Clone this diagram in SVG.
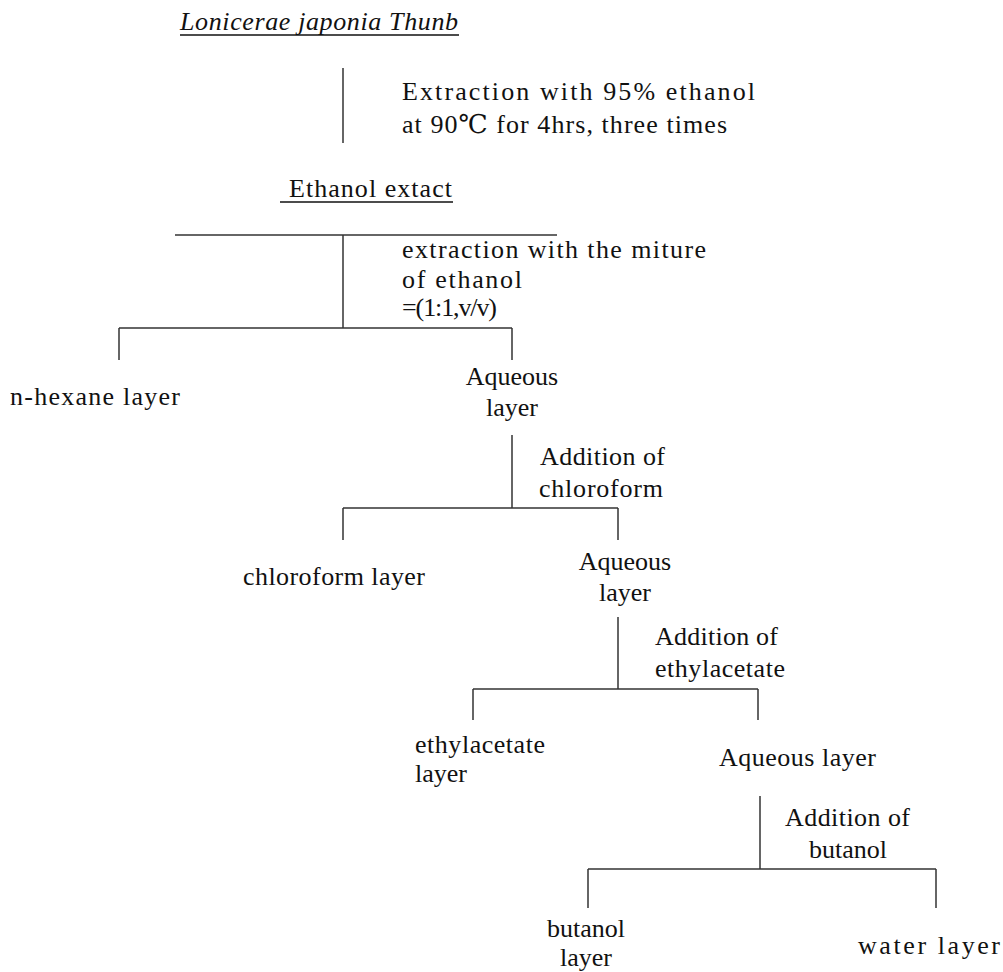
<svg xmlns="http://www.w3.org/2000/svg" width="1003" height="972" viewBox="0 0 1003 972" font-family="'Liberation Serif', 'Times New Roman', 'DejaVu Serif', serif">
<style>
text{font-family:"Liberation Serif","Times New Roman","DejaVu Serif",serif;font-size:26px;fill:#111}
.c{text-anchor:middle}
.it{font-style:italic}
line{stroke:#333;stroke-width:1.5;fill:none}
.ul{stroke:#111;stroke-width:1.5}
</style>
<rect width="1003" height="972" fill="#fff"/>
<g id="connectors">
<line x1="343" y1="68" x2="343" y2="143"/>
<line x1="175" y1="235" x2="557" y2="235"/>
<line x1="343" y1="235" x2="343" y2="328"/>
<line x1="119" y1="328" x2="512" y2="328"/>
<line x1="119" y1="328" x2="119" y2="360"/>
<line x1="512" y1="328" x2="512" y2="360"/>
<line x1="512" y1="435" x2="512" y2="508"/>
<line x1="343" y1="508" x2="618" y2="508"/>
<line x1="343" y1="508" x2="343" y2="540"/>
<line x1="618" y1="508" x2="618" y2="540"/>
<line x1="618" y1="617" x2="618" y2="689"/>
<line x1="473" y1="689" x2="758" y2="689"/>
<line x1="473" y1="689" x2="473" y2="720"/>
<line x1="758" y1="689" x2="758" y2="720"/>
<line x1="760" y1="796" x2="760" y2="869"/>
<line x1="588" y1="869" x2="936" y2="869"/>
<line x1="588" y1="869" x2="588" y2="908"/>
<line x1="936" y1="869" x2="936" y2="908"/>
</g>
<g id="title">
<text class="it" x="180" y="30" textLength="278" lengthAdjust="spacing">Lonicerae japonia Thunb</text>
<line class="ul" x1="180" y1="35" x2="459" y2="35"/>
</g>
<g id="step1-label">
<text x="402" y="100" textLength="353" lengthAdjust="spacing">Extraction with 95% ethanol</text>
<text x="402" y="133" textLength="325" lengthAdjust="spacing">at 90℃ for 4hrs, three times</text>
</g>
<g id="ethanol-extract">
<text x="289" y="197" textLength="163" lengthAdjust="spacing">Ethanol extact</text>
<line class="ul" x1="280" y1="202" x2="453" y2="202"/>
</g>
<g id="step2-label">
<text x="402" y="258" textLength="304" lengthAdjust="spacing">extraction with the miture</text>
<text x="402" y="288" textLength="120" lengthAdjust="spacing">of ethanol</text>
<text x="402" y="316" textLength="95" lengthAdjust="spacing">=(1:1,v/v)</text>
</g>
<g id="n-hexane-layer">
<text x="10" y="405" textLength="170" lengthAdjust="spacing">n-hexane layer</text>
</g>
<g id="aqueous-layer-1">
<text class="c" x="512" y="385">Aqueous</text>
<text class="c" x="512" y="416">layer</text>
</g>
<g id="step3-label">
<text x="540" y="465" textLength="125" lengthAdjust="spacing">Addition of</text>
<text x="539" y="497" textLength="124" lengthAdjust="spacing">chloroform</text>
</g>
<g id="chloroform-layer">
<text x="243" y="585" textLength="182" lengthAdjust="spacing">chloroform layer</text>
</g>
<g id="aqueous-layer-2">
<text class="c" x="625" y="570">Aqueous</text>
<text class="c" x="625" y="601">layer</text>
</g>
<g id="step4-label">
<text x="655" y="645" textLength="123" lengthAdjust="spacing">Addition of</text>
<text x="655" y="677" textLength="130" lengthAdjust="spacing">ethylacetate</text>
</g>
<g id="ethylacetate-layer">
<text x="415" y="753" textLength="130" lengthAdjust="spacing">ethylacetate</text>
<text x="415" y="782">layer</text>
</g>
<g id="aqueous-layer-3">
<text x="719" y="766" textLength="157" lengthAdjust="spacing">Aqueous layer</text>
</g>
<g id="step5-label">
<text x="785" y="826" textLength="125" lengthAdjust="spacing">Addition of</text>
<text class="c" x="848" y="858">butanol</text>
</g>
<g id="butanol-layer">
<text class="c" x="586" y="937">butanol</text>
<text class="c" x="586" y="966">layer</text>
</g>
<g id="water-layer">
<text x="858" y="954" textLength="142" lengthAdjust="spacing">water layer</text>
</g>
</svg>
